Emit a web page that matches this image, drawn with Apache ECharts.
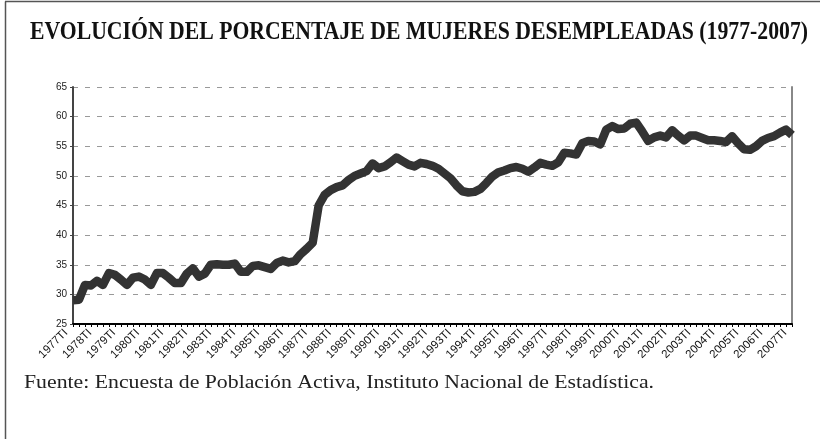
<!DOCTYPE html>
<html>
<head>
<meta charset="utf-8">
<script src="https://cdn.jsdelivr.net/npm/echarts@6/dist/echarts.min.js"></script>
<style>html,body{margin:0;padding:0;background:#fff;}#c{width:820px;height:439px;}</style>
</head>
<body>
<div id="c"></div>
<script>
const years = ['1977','1978','1979','1980','1981','1982','1983','1984','1985','1986','1987','1988','1989','1990','1991','1992','1993','1994','1995','1996','1997','1998','1999','2000','2001','2002','2003','2004','2005','2006','2007'];
const quarters = ['TI','TII','TIII','TIV'];
const yTicks = [25,30,35,40,45,50,55,60,65];
const titleText = 'EVOLUCIÓN DEL PORCENTAJE DE MUJERES DESEMPLEADAS (1977-2007)';
const sourceText = 'Fuente: Encuesta de Población Activa, Instituto Nacional de Estadística.';
const values = [
  29.0,29.1,31.6,31.5, 32.3,31.6,33.6,33.3, 32.5,31.6,32.8,33.0, 32.5,31.6,33.6,33.6,
  32.8,31.9,31.9,33.5, 34.4,33.0,33.5,35.0, 35.1,35.0,35.0,35.2, 33.8,33.8,34.8,34.9,
  34.6,34.3,35.3,35.7, 35.4,35.6,36.8,37.7, 38.7,45.0,46.8,47.6, 48.1,48.4,49.3,50.0,
  50.4,50.8,52.1,51.3, 51.6,52.3,53.1,52.5, 51.9,51.6,52.2,52.0, 51.7,51.2,50.4,49.6,
  48.4,47.4,47.2,47.3, 47.8,48.8,49.9,50.6, 50.9,51.3,51.5,51.2, 50.7,51.4,52.2,51.9,
  51.7,52.3,53.9,53.8, 53.6,55.5,55.9,55.8, 55.3,57.8,58.4,57.9, 58.0,58.8,59.0,57.5,
  55.9,56.5,56.8,56.5, 57.7,56.8,56.0,56.8, 56.8,56.4,56.0,56.0, 55.9,55.7,56.7,55.5,
  54.5,54.4,55.0,55.9, 56.4,56.7,57.3,57.8, 56.9
];
const categories = [];
years.forEach(y => quarters.forEach(q => categories.push(y + q)));
categories.length = values.length;

function fitScale(text, font, target) {
  const ctx = document.createElement('canvas').getContext('2d');
  ctx.font = font;
  return target / ctx.measureText(text).width;
}
const titleFont = 'bold 25px "Liberation Serif"';
const titleScale = fitScale(titleText, titleFont, 778);
const srcFont = '19px "Liberation Serif"';
const srcScale = fitScale(sourceText, srcFont, 630);

const chart = echarts.init(document.getElementById('c'), null, {renderer: 'canvas'});
chart.setOption({
  backgroundColor: '#fff',
  animation: false,
  grid: {left: 73, right: 28, top: 87, bottom: 115, containLabel: false, outerBoundsMode: 'none'},
  xAxis: {
    type: 'category',
    data: categories,
    boundaryGap: false,
    axisLine: {show: true, lineStyle: {color: '#000', width: 2}},
    axisTick: {show: true, interval: 0, length: 3, lineStyle: {color: '#000', width: 1}},
    axisLabel: {interval: 3, rotate: 45, fontSize: 11.5, color: '#111', fontFamily: 'Liberation Sans',
                margin: 0, padding: [0, 10, 26, 0]},
    splitLine: {show: false}
  },
  yAxis: [{
    type: 'value',
    min: yTicks[0], max: yTicks[yTicks.length - 1], interval: 5,
    axisLine: {show: true, lineStyle: {color: '#444', width: 2}},
    axisTick: {show: true, length: 3, lineStyle: {color: '#444'}},
    axisLabel: {fontSize: 10, color: '#222', fontFamily: 'Liberation Sans', margin: 6},
    splitLine: {show: true, lineStyle: {color: '#999', width: 1, type: [5, 7]}}
  }, {
    type: 'value', position: 'right',
    min: yTicks[0], max: yTicks[yTicks.length - 1], interval: 5,
    axisLine: {show: true, lineStyle: {color: '#888', width: 2}},
    axisTick: {show: false}, axisLabel: {show: false}, splitLine: {show: false}
  }],
  series: [{
    type: 'line',
    data: values,
    yAxisIndex: 0,
    showSymbol: false,
    symbol: 'none',
    lineStyle: {color: '#333', width: 8.5, join: 'round'},
    z: 5
  }],
  graphic: [
    {type: 'line', shape: {x1: 5.5, y1: 1.5, x2: 5.5, y2: 439}, style: {stroke: '#555', lineWidth: 1.5}},
    {type: 'line', shape: {x1: 5, y1: 1.5, x2: 820, y2: 1.5}, style: {stroke: '#555', lineWidth: 1.5}},
    {type: 'text', x: 30, y: 33, scaleX: titleScale, scaleY: 1,
     style: {text: titleText, font: titleFont, fill: '#111', textVerticalAlign: 'middle', verticalAlign: 'middle'}},
    {type: 'text', x: 24, y: 383, scaleX: srcScale, scaleY: 1,
     style: {text: sourceText, font: srcFont, fill: '#222', textVerticalAlign: 'middle', verticalAlign: 'middle'}}
  ]
});
</script>
</body>
</html>
